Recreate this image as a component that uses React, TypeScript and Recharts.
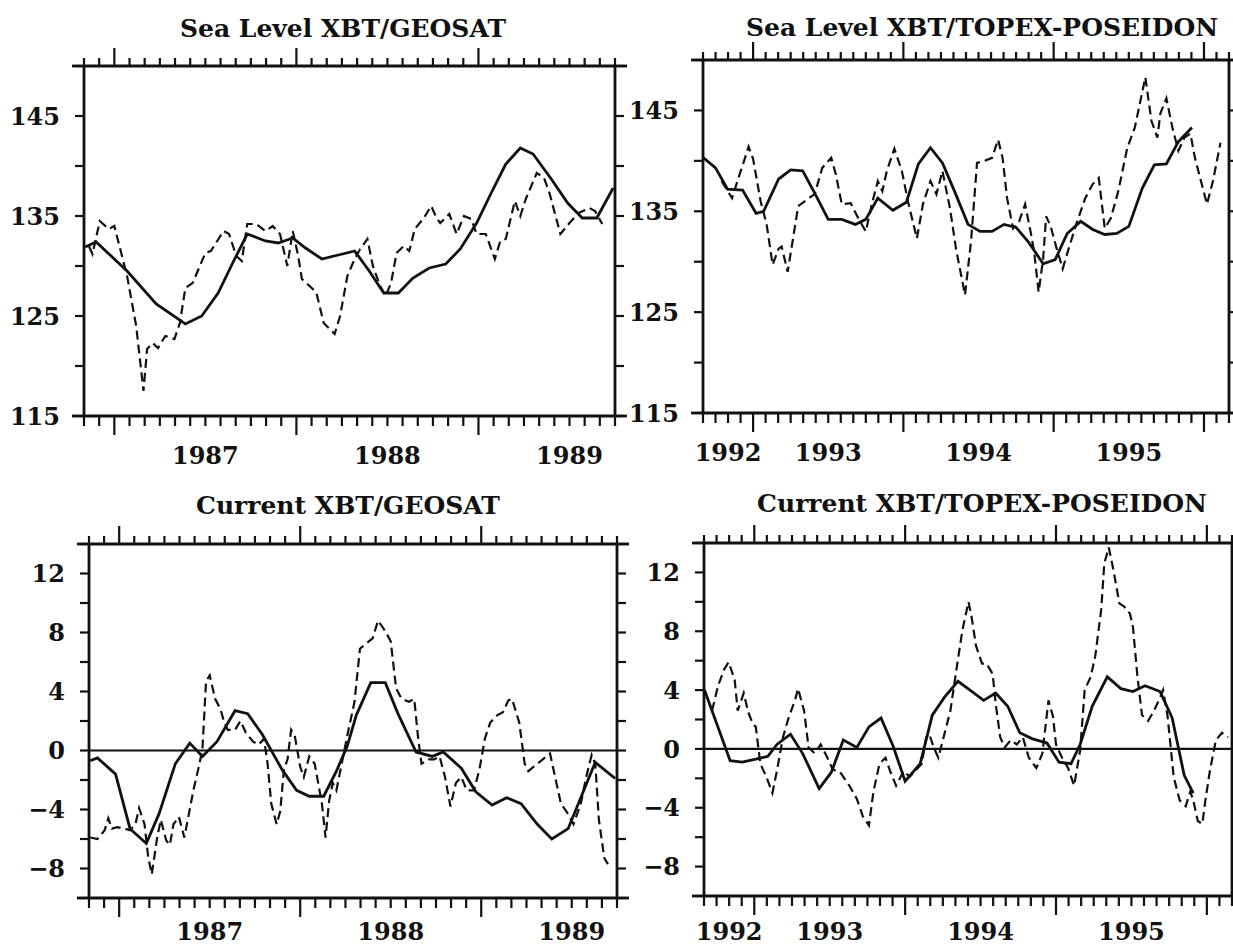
import React from 'react';
import { LineChart, Line, XAxis, YAxis, ReferenceLine } from 'recharts';

const FONT = '"DejaVu Serif", "Liberation Serif", serif';
const INK = '#111';

// values; solid = XBT, dashed = altimeter
// decimal years on x

// Sea level XBT/GEOSAT
const geoSeaXbtYears = [1986.84, 1986.90, 1987.07, 1987.23, 1987.39, 1987.48, 1987.57, 1987.65, 1987.73, 1987.83, 1987.90, 1987.98, 1988.05, 1988.14, 1988.23, 1988.32, 1988.40, 1988.48, 1988.56, 1988.64, 1988.73, 1988.82, 1988.90, 1988.99, 1989.07, 1989.15, 1989.23, 1989.30, 1989.40, 1989.49, 1989.57, 1989.65, 1989.74];
const geoSeaXbt = [131.9, 132.4, 129.5, 126.2, 124.2, 125.0, 127.3, 130.3, 133.2, 132.5, 132.3, 132.8, 131.8, 130.7, 131.1, 131.5, 129.5, 127.3, 127.3, 128.8, 129.8, 130.2, 131.7, 134.3, 137.3, 140.2, 141.8, 141.2, 138.7, 136.3, 134.8, 134.8, 137.8];
const geoSeaAltYears = [1986.86, 1986.88, 1986.92, 1986.97, 1987.00, 1987.07, 1987.12, 1987.16, 1987.18, 1987.21, 1987.24, 1987.28, 1987.33, 1987.36, 1987.39, 1987.43, 1987.50, 1987.53, 1987.60, 1987.63, 1987.67, 1987.70, 1987.73, 1987.78, 1987.83, 1987.87, 1987.91, 1987.95, 1987.98, 1988.01, 1988.03, 1988.09, 1988.11, 1988.15, 1988.21, 1988.24, 1988.28, 1988.32, 1988.35, 1988.39, 1988.42, 1988.46, 1988.49, 1988.52, 1988.55, 1988.59, 1988.62, 1988.65, 1988.70, 1988.74, 1988.77, 1988.79, 1988.84, 1988.88, 1988.92, 1988.96, 1988.99, 1989.04, 1989.09, 1989.12, 1989.15, 1989.20, 1989.23, 1989.26, 1989.32, 1989.36, 1989.39, 1989.45, 1989.50, 1989.55, 1989.61, 1989.64, 1989.68];
const geoSeaAlt = [132.0, 131.2, 134.5, 133.7, 134.0, 129.0, 124.0, 117.5, 121.7, 122.3, 121.8, 123.0, 122.7, 124.3, 127.8, 128.3, 131.3, 131.5, 133.5, 133.2, 131.0, 130.5, 134.2, 134.2, 133.5, 134.0, 133.2, 130.0, 133.5, 131.0, 128.7, 127.7, 127.3, 124.3, 123.2, 125.0, 129.0, 130.7, 131.7, 132.7, 130.0, 128.0, 127.0, 128.3, 131.3, 132.0, 131.5, 133.7, 134.8, 136.0, 134.8, 134.3, 135.2, 133.2, 135.0, 134.7, 133.2, 133.2, 130.7, 132.5, 132.7, 136.5, 135.0, 136.7, 139.3, 138.8, 137.3, 133.2, 134.3, 135.3, 135.8, 135.5, 134.2];

// Sea level XBT/TOPEX-POSEIDON
const topSeaXbtYears = [1992.67, 1992.75, 1992.83, 1992.93, 1993.02, 1993.07, 1993.17, 1993.25, 1993.33, 1993.41, 1993.50, 1993.59, 1993.68, 1993.75, 1993.83, 1993.93, 1994.02, 1994.10, 1994.18, 1994.26, 1994.34, 1994.43, 1994.51, 1994.59, 1994.67, 1994.75, 1994.83, 1994.93, 1995.01, 1995.09, 1995.18, 1995.26, 1995.34, 1995.42, 1995.50, 1995.59, 1995.67, 1995.75, 1995.83, 1995.92];
const topSeaXbt = [140.3, 139.3, 137.2, 137.1, 134.8, 135.0, 138.2, 139.1, 139.0, 136.8, 134.2, 134.2, 133.7, 134.2, 136.3, 135.1, 135.9, 139.7, 141.3, 139.8, 137.0, 133.7, 133.0, 133.0, 133.7, 133.4, 132.0, 129.8, 130.2, 132.8, 134.0, 133.2, 132.7, 132.8, 133.5, 137.3, 139.6, 139.7, 141.9, 143.3];
const topSeaAltYears = [1992.79, 1992.86, 1992.90, 1992.94, 1992.97, 1993.00, 1993.05, 1993.09, 1993.13, 1993.17, 1993.19, 1993.23, 1993.27, 1993.30, 1993.37, 1993.41, 1993.46, 1993.52, 1993.55, 1993.59, 1993.65, 1993.70, 1993.75, 1993.79, 1993.83, 1993.86, 1993.89, 1993.94, 1993.99, 1994.03, 1994.09, 1994.13, 1994.18, 1994.22, 1994.26, 1994.31, 1994.35, 1994.41, 1994.45, 1994.49, 1994.54, 1994.59, 1994.63, 1994.66, 1994.69, 1994.73, 1994.77, 1994.81, 1994.85, 1994.87, 1994.90, 1994.93, 1994.95, 1994.98, 1995.02, 1995.06, 1995.10, 1995.15, 1995.21, 1995.26, 1995.30, 1995.34, 1995.38, 1995.43, 1995.49, 1995.54, 1995.61, 1995.65, 1995.69, 1995.71, 1995.75, 1995.79, 1995.83, 1995.87, 1995.91, 1995.94, 1995.98, 1996.02, 1996.06, 1996.11];
const topSeaAlt = [138.0, 136.3, 138.2, 140.0, 141.4, 140.2, 136.0, 133.7, 129.7, 131.3, 131.5, 129.0, 132.7, 135.5, 136.3, 136.7, 139.3, 140.3, 138.7, 135.7, 135.8, 134.3, 133.0, 135.7, 138.0, 137.0, 139.0, 141.2, 139.0, 136.0, 132.3, 135.7, 138.0, 136.7, 139.0, 135.3, 131.3, 126.7, 132.0, 139.8, 140.0, 140.3, 142.1, 140.3, 136.3, 133.3, 134.0, 135.7, 132.7, 131.0, 127.0, 130.3, 134.5, 133.5, 131.3, 129.3, 131.3, 133.7, 136.3, 137.7, 138.3, 133.3, 134.3, 137.0, 141.3, 143.3, 148.3, 144.0, 142.3, 144.7, 146.2, 143.3, 141.0, 142.3, 142.7, 140.3, 138.0, 135.7, 138.0, 141.8];

// Current XBT/GEOSAT
const geoCurXbtYears = [1986.84, 1986.88, 1986.98, 1987.06, 1987.15, 1987.22, 1987.31, 1987.39, 1987.46, 1987.54, 1987.64, 1987.71, 1987.79, 1987.90, 1987.98, 1988.05, 1988.13, 1988.20, 1988.26, 1988.31, 1988.39, 1988.47, 1988.54, 1988.64, 1988.73, 1988.79, 1988.89, 1988.97, 1989.06, 1989.14, 1989.22, 1989.31, 1989.39, 1989.48, 1989.56, 1989.63, 1989.74];
const geoCurXbt = [-0.7, -0.5, -1.6, -5.3, -6.3, -4.3, -0.9, 0.5, -0.4, 0.6, 2.7, 2.5, 1.1, -1.3, -2.7, -3.1, -3.1, -1.4, 0.3, 2.4, 4.6, 4.6, 2.5, -0.1, -0.4, -0.1, -1.2, -2.8, -3.7, -3.2, -3.6, -5.0, -6.0, -5.3, -2.9, -0.8, -1.9];
const geoCurAltYears = [1986.84, 1986.88, 1986.92, 1986.94, 1986.96, 1986.99, 1987.03, 1987.06, 1987.09, 1987.11, 1987.14, 1987.16, 1987.18, 1987.21, 1987.23, 1987.26, 1987.28, 1987.30, 1987.33, 1987.36, 1987.41, 1987.44, 1987.46, 1987.48, 1987.50, 1987.53, 1987.56, 1987.58, 1987.60, 1987.64, 1987.67, 1987.70, 1987.74, 1987.77, 1987.80, 1987.82, 1987.84, 1987.87, 1987.89, 1987.91, 1987.93, 1987.95, 1987.97, 1988.00, 1988.02, 1988.05, 1988.08, 1988.12, 1988.14, 1988.16, 1988.18, 1988.20, 1988.26, 1988.30, 1988.33, 1988.37, 1988.40, 1988.43, 1988.47, 1988.50, 1988.53, 1988.56, 1988.60, 1988.63, 1988.65, 1988.67, 1988.71, 1988.74, 1988.77, 1988.80, 1988.83, 1988.86, 1988.89, 1988.92, 1988.96, 1988.99, 1989.02, 1989.05, 1989.09, 1989.12, 1989.15, 1989.17, 1989.21, 1989.24, 1989.26, 1989.29, 1989.34, 1989.38, 1989.44, 1989.48, 1989.51, 1989.55, 1989.58, 1989.61, 1989.63, 1989.65, 1989.68, 1989.70];
const geoCurAlt = [-5.9, -6.0, -5.4, -4.6, -5.3, -5.2, -5.3, -5.4, -5.0, -3.9, -5.0, -7.2, -8.4, -5.9, -4.7, -6.1, -6.4, -5.0, -4.5, -5.9, -2.7, -1.1, 0.1, 4.7, 5.1, 3.5, 2.8, 1.9, 1.4, 1.4, 2.0, 1.2, 0.6, 0.4, 0.8, -0.9, -3.6, -5.0, -4.1, -1.3, -0.6, 1.4, 1.0, -1.1, -1.8, -0.4, -0.9, -3.6, -5.9, -3.4, -2.2, -2.7, 1.0, 3.3, 6.9, 7.3, 7.6, 8.8, 8.1, 7.4, 4.2, 3.5, 3.3, 3.5, 1.0, -0.9, -0.6, -0.6, -0.4, -1.8, -3.8, -2.2, -1.8, -2.7, -2.7, -1.3, 0.8, 1.9, 2.4, 2.6, 3.4, 3.5, 1.9, -0.9, -1.4, -1.1, -0.6, -0.2, -3.6, -4.3, -5.0, -3.6, -1.8, -0.3, -0.9, -4.7, -7.3, -7.7];

// Current XBT/TOPEX-POSEIDON
const topCurXbtYears = [1992.67, 1992.84, 1992.92, 1993.01, 1993.09, 1993.15, 1993.24, 1993.32, 1993.43, 1993.51, 1993.59, 1993.68, 1993.76, 1993.84, 1993.92, 1994.00, 1994.10, 1994.18, 1994.26, 1994.35, 1994.43, 1994.52, 1994.60, 1994.68, 1994.76, 1994.84, 1994.94, 1995.02, 1995.10, 1995.16, 1995.24, 1995.34, 1995.43, 1995.51, 1995.59, 1995.69, 1995.77, 1995.85, 1995.91];
const topCurXbt = [4.0, -0.8, -0.9, -0.7, -0.5, 0.3, 1.0, -0.3, -2.7, -1.6, 0.6, 0.1, 1.5, 2.1, 0.2, -2.2, -1.0, 2.3, 3.5, 4.6, 4.0, 3.3, 3.8, 2.9, 1.1, 0.7, 0.4, -0.9, -1.0, 0.3, 2.9, 4.9, 4.1, 3.9, 4.3, 3.9, 2.1, -1.8, -3.0];
const topCurAltYears = [1992.72, 1992.76, 1992.80, 1992.83, 1992.87, 1992.89, 1992.93, 1992.96, 1992.99, 1993.01, 1993.04, 1993.08, 1993.12, 1993.15, 1993.19, 1993.23, 1993.27, 1993.29, 1993.33, 1993.36, 1993.40, 1993.44, 1993.48, 1993.52, 1993.57, 1993.63, 1993.68, 1993.72, 1993.76, 1993.79, 1993.83, 1993.87, 1993.90, 1993.94, 1993.99, 1994.03, 1994.11, 1994.14, 1994.16, 1994.19, 1994.22, 1994.30, 1994.34, 1994.38, 1994.42, 1994.44, 1994.47, 1994.51, 1994.54, 1994.58, 1994.60, 1994.63, 1994.66, 1994.70, 1994.74, 1994.78, 1994.82, 1994.87, 1994.91, 1994.95, 1994.98, 1995.00, 1995.04, 1995.08, 1995.12, 1995.16, 1995.19, 1995.23, 1995.26, 1995.30, 1995.32, 1995.35, 1995.38, 1995.42, 1995.45, 1995.49, 1995.51, 1995.54, 1995.57, 1995.61, 1995.65, 1995.69, 1995.71, 1995.74, 1995.78, 1995.82, 1995.86, 1995.89, 1995.91, 1995.94, 1995.97, 1995.99, 1996.02, 1996.06, 1996.10, 1996.14];
const topCurAlt = [2.6, 4.3, 5.4, 5.9, 4.7, 2.6, 3.8, 2.5, 1.7, 1.5, -1.0, -1.9, -3.0, -1.5, 0.8, 2.2, 3.3, 4.1, 2.6, 0.1, -0.3, 0.3, -0.5, -1.4, -1.6, -2.5, -3.4, -4.6, -5.2, -2.9, -1.0, -0.6, -1.5, -2.5, -1.5, -1.9, -1.0, 0.8, 1.0, 0.1, -0.6, 2.6, 5.4, 8.1, 10.0, 9.0, 7.0, 5.8, 5.8, 5.1, 3.1, 0.8, 0.1, 0.6, 0.3, 0.8, -0.6, -1.3, -0.3, 3.3, 2.2, 0.3, -0.6, -1.3, -2.5, -0.1, 4.0, 4.9, 6.3, 9.5, 12.6, 13.7, 12.2, 9.9, 9.7, 9.2, 8.3, 4.9, 2.3, 1.9, 2.6, 3.5, 4.0, 2.2, -1.9, -3.5, -3.9, -2.9, -3.5, -4.9, -5.1, -3.5, -1.5, 0.6, 1.1, 0.8];

// axes
const geoRange = [1986 + 10 / 12, 1989 + 9 / 12];
const topRange = [1992 + 8 / 12, 1996 + 2 / 12];
const geoYearLabels = [{ at: 1987.5, text: '1987' }, { at: 1988.5, text: '1988' }, { at: 1989.5, text: '1989' }];
const topYearLabels = [{ at: 1992 + 10 / 12, text: '1992' }, { at: 1993.5, text: '1993' }, { at: 1994.5, text: '1994' }, { at: 1995.5, text: '1995' }];
const seaTicks = [115, 120, 125, 130, 135, 140, 145, 150];
const seaLabels = [115, 125, 135, 145];
const curTicks = [-10, -8, -6, -4, -2, 0, 2, 4, 6, 8, 10, 12, 14];
const curLabels = [-8, -4, 0, 4, 8, 12];

type Pt = { t: number; v: number };
type YearLabel = { at: number; text: string };
const pair = (ts: number[], vs: number[]): Pt[] => ts.map((t, i) => ({ t, v: vs[i] }));

function monthTicks(lo: number, hi: number) {
  const out: number[] = [];
  for (let m = Math.round(lo * 12); m <= Math.round(hi * 12); m++) out.push(m / 12);
  return out;
}
const isJanuary = (v: number) => Math.round(v * 12) % 12 === 0;
const near = (a: number, b: number) => Math.abs(a - b) < 1e-3;
const fmt = (v: number) => (v < 0 ? '\u2212' + Math.abs(v) : String(v));

const labelStyle = { fontFamily: FONT, fontWeight: 700, fontSize: 24, fill: INK };

const bottomTick = (lo: number, hi: number, labels: YearLabel[], dy: number) => (props: any) => {
  const { x, y, payload } = props;
  const v = payload.value as number;
  const lab = labels.find((l) => near(l.at, v));
  return (
    <g>
      <line x1={x} x2={x} y1={y} y2={y + (isJanuary(v) ? 19 : 10)} stroke={INK} strokeWidth={2.2} />
      {near(v, lo) && <line x1={x - 12} x2={x} y1={y} y2={y} stroke={INK} strokeWidth={2.8} />}
      {near(v, hi) && <line x1={x} x2={x + 12} y1={y} y2={y} stroke={INK} strokeWidth={2.8} />}
      {lab && (
        <text x={x} y={y + dy} textAnchor="middle" style={labelStyle}>
          {lab.text}
        </text>
      )}
    </g>
  );
};

const topTick = (lo: number, hi: number) => (props: any) => {
  const { x, y, payload } = props;
  const v = payload.value as number;
  return (
    <g>
      <line x1={x} x2={x} y1={y} y2={y - (isJanuary(v) ? 18 : 8)} stroke={INK} strokeWidth={2.2} />
      {near(v, lo) && <line x1={x - 12} x2={x} y1={y} y2={y} stroke={INK} strokeWidth={2.8} />}
      {near(v, hi) && <line x1={x} x2={x + 12} y1={y} y2={y} stroke={INK} strokeWidth={2.8} />}
    </g>
  );
};

const leftTick = (labels: number[]) => (props: any) => {
  const { x, y, payload } = props;
  const v = payload.value as number;
  return (
    <g>
      <line x1={x - 9} x2={x} y1={y} y2={y} stroke={INK} strokeWidth={2.2} />
      {labels.includes(v) && (
        <text x={x - 24} y={y} dy="0.36em" textAnchor="end" style={labelStyle}>
          {fmt(v)}
        </text>
      )}
    </g>
  );
};

const rightTick = (props: any) => {
  const { x, y } = props;
  return <line x1={x} x2={x + 9} y1={y} y2={y} stroke={INK} strokeWidth={2.2} />;
};

type Box = { l: number; t: number; r: number; b: number };
type PanelProps = {
  box: Box;
  xRange: number[];
  yTicks: number[];
  yLabels: number[];
  years: YearLabel[];
  yearDy: number;
  xbt: Pt[];
  alt: Pt[];
  zero?: boolean;
};

// space around the plot box; axes take 1px each inside it
const PAD = { left: 90, top: 30, right: 20, bottom: 62 };
const MARGIN = { left: PAD.left - 1, top: PAD.top - 1, right: PAD.right - 1, bottom: PAD.bottom - 1 };
const axisStroke = { stroke: INK, strokeWidth: 2.8 };

const Panel = ({ box, xRange, yTicks, yLabels, years, yearDy, xbt, alt, zero }: PanelProps) => {
  const w = box.r - box.l + PAD.left + PAD.right;
  const h = box.b - box.t + PAD.top + PAD.bottom;
  const months = monthTicks(xRange[0], xRange[1]);
  const yDomain = [yTicks[0], yTicks[yTicks.length - 1]];
  return (
    <div style={{ position: 'absolute', left: box.l - PAD.left, top: box.t - PAD.top }}>
      <LineChart width={w} height={h} margin={MARGIN}>
        <XAxis
          dataKey="t"
          type="number"
          domain={xRange}
          allowDataOverflow
          ticks={months}
          interval={0}
          height={1}
          tickSize={0}
          tickMargin={0}
          tickLine={false}
          axisLine={axisStroke}
          tick={bottomTick(xRange[0], xRange[1], years, yearDy)}
        />
        <XAxis
          xAxisId="top"
          orientation="top"
          dataKey="t"
          type="number"
          domain={xRange}
          allowDataOverflow
          ticks={months}
          interval={0}
          height={1}
          tickSize={0}
          tickMargin={0}
          tickLine={false}
          axisLine={axisStroke}
          tick={topTick(xRange[0], xRange[1])}
        />
        <YAxis
          type="number"
          domain={yDomain}
          allowDataOverflow
          ticks={yTicks}
          interval={0}
          width={1}
          tickSize={0}
          tickMargin={0}
          tickLine={false}
          axisLine={axisStroke}
          tick={leftTick(yLabels)}
        />
        <YAxis
          yAxisId="right"
          orientation="right"
          type="number"
          domain={yDomain}
          allowDataOverflow
          ticks={yTicks}
          interval={0}
          width={1}
          tickSize={0}
          tickMargin={0}
          tickLine={false}
          axisLine={axisStroke}
          tick={rightTick}
        />
        {zero && <ReferenceLine y={0} stroke={INK} strokeWidth={2.2} />}
        <Line
          data={alt}
          dataKey="v"
          type="linear"
          stroke={INK}
          strokeWidth={2.2}
          strokeDasharray="9 5"
          dot={false}
          isAnimationActive={false}
        />
        <Line
          data={xbt}
          dataKey="v"
          type="linear"
          stroke={INK}
          strokeWidth={2.8}
          dot={false}
          isAnimationActive={false}
        />
      </LineChart>
    </div>
  );
};

const titleStyle = { fontFamily: FONT, fontWeight: 700, fontSize: 25, fill: INK };

export default function App() {
  return (
    <div style={{ position: 'absolute', left: 0, top: 0, width: 1233, height: 948, background: '#fff', overflow: 'hidden' }}>
      <Panel
        box={{ l: 84, t: 66, r: 615, b: 416 }}
        xRange={geoRange}
        yTicks={seaTicks}
        yLabels={seaLabels}
        years={geoYearLabels}
        yearDy={48}
        xbt={pair(geoSeaXbtYears, geoSeaXbt)}
        alt={pair(geoSeaAltYears, geoSeaAlt)}
      />
      <Panel
        box={{ l: 703, t: 60, r: 1229, b: 413 }}
        xRange={topRange}
        yTicks={seaTicks}
        yLabels={seaLabels}
        years={topYearLabels}
        yearDy={48}
        xbt={pair(topSeaXbtYears, topSeaXbt)}
        alt={pair(topSeaAltYears, topSeaAlt)}
      />
      <Panel
        box={{ l: 89, t: 544, r: 617, b: 898 }}
        xRange={geoRange}
        yTicks={curTicks}
        yLabels={curLabels}
        years={geoYearLabels}
        yearDy={42}
        xbt={pair(geoCurXbtYears, geoCurXbt)}
        alt={pair(geoCurAltYears, geoCurAlt)}
        zero
      />
      <Panel
        box={{ l: 704, t: 543, r: 1232, b: 896 }}
        xRange={topRange}
        yTicks={curTicks}
        yLabels={curLabels}
        years={topYearLabels}
        yearDy={44}
        xbt={pair(topCurXbtYears, topCurXbt)}
        alt={pair(topCurAltYears, topCurAlt)}
        zero
      />
      <svg width={1233} height={948} style={{ position: 'absolute', left: 0, top: 0, pointerEvents: 'none' }}>
        <text x={343} y={37} textAnchor="middle" style={titleStyle}>Sea Level XBT/GEOSAT</text>
        <text x={982} y={36} textAnchor="middle" style={titleStyle}>Sea Level XBT/TOPEX-POSEIDON</text>
        <text x={348} y={514} textAnchor="middle" style={titleStyle}>Current XBT/GEOSAT</text>
        <text x={982} y={512} textAnchor="middle" style={titleStyle}>Current XBT/TOPEX-POSEIDON</text>
      </svg>
    </div>
  );
}
